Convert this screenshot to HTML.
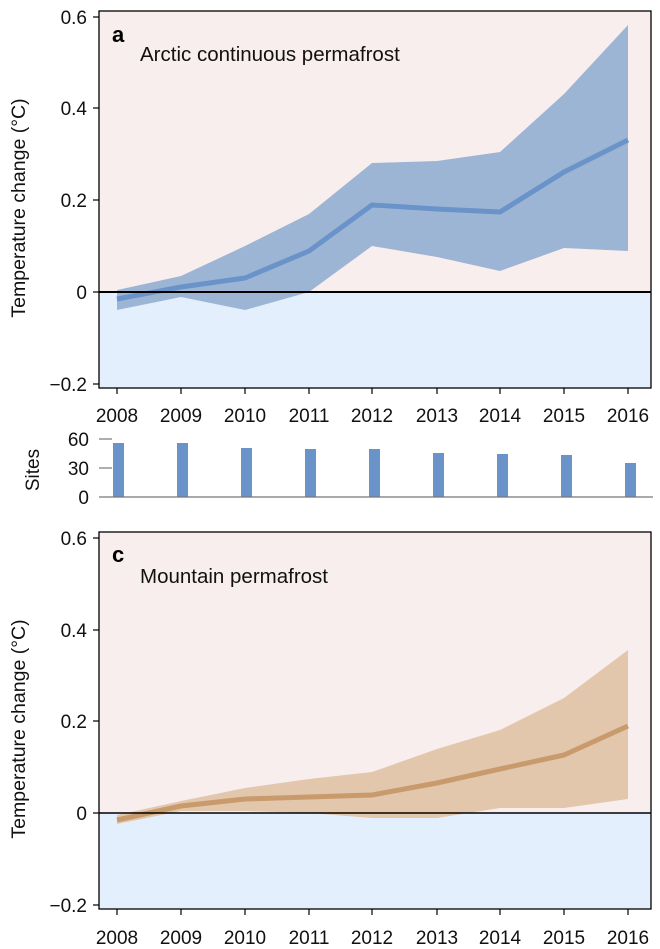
<!DOCTYPE html>
<html><head><meta charset="utf-8"><style>
html,body{margin:0;padding:0;background:#fff;}
svg{display:block;font-family:"Liberation Sans",sans-serif;}
</style></head><body>
<svg width="660" height="949" viewBox="0 0 660 949" xmlns="http://www.w3.org/2000/svg">
<!-- Panel a -->
<rect x="99" y="11" width="552" height="281" fill="#f9eeee"/>
<rect x="99" y="292" width="552" height="96" fill="#e3effc"/>
<polygon fill="#9db5d5" points="117,290 181,276 245,246 309,214 372,163 437,161 500,152 564,94 628,25 628,251 564,248 500,271 437,257 372,246 309,292 245,310 181,297 117,310"/>
<polyline fill="none" stroke="#6a93c9" stroke-width="5" stroke-linejoin="round" points="117,299 181,287 245,278 309,251 372,205 437,209 500,212 564,172 628,140"/>
<line x1="99" y1="292" x2="651" y2="292" stroke="#000" stroke-width="2"/>
<rect x="99" y="11" width="552" height="377" fill="none" stroke="#000" stroke-width="1.3"/>
<g stroke="#000" stroke-width="1.2">
<line x1="93" y1="17" x2="99" y2="17"/><line x1="93" y1="108" x2="99" y2="108"/><line x1="93" y1="200" x2="99" y2="200"/><line x1="93" y1="292" x2="99" y2="292"/><line x1="93" y1="384" x2="99" y2="384"/>
<line x1="117" y1="388" x2="117" y2="394"/><line x1="181" y1="388" x2="181" y2="394"/><line x1="245" y1="388" x2="245" y2="394"/><line x1="309" y1="388" x2="309" y2="394"/><line x1="372" y1="388" x2="372" y2="394"/><line x1="437" y1="388" x2="437" y2="394"/><line x1="500" y1="388" x2="500" y2="394"/><line x1="564" y1="388" x2="564" y2="394"/><line x1="628" y1="388" x2="628" y2="394"/>
</g>
<g font-size="19" fill="#111" text-anchor="end">
<text x="87" y="24">0.6</text><text x="87" y="115">0.4</text><text x="87" y="207">0.2</text><text x="87" y="299">0</text><text x="87" y="391">−0.2</text>
</g>
<g font-size="19" fill="#111" text-anchor="middle">
<text x="117" y="422">2008</text><text x="181" y="422">2009</text><text x="245" y="422">2010</text><text x="309" y="422">2011</text><text x="372" y="422">2012</text><text x="437" y="422">2013</text><text x="500" y="422">2014</text><text x="564" y="422">2015</text><text x="628" y="422">2016</text>
</g>
<text x="112" y="42" font-size="22" font-weight="bold">a</text>
<text x="140" y="61" font-size="20.5" fill="#111">Arctic continuous permafrost</text>
<text transform="translate(25,208) rotate(-90)" font-size="19.5" fill="#111" text-anchor="middle">Temperature change (°C)</text>
<!-- Sites -->
<g fill="#6a93c9">
<rect x="113" y="443" width="11" height="54"/><rect x="177" y="443" width="11" height="54"/><rect x="241" y="448" width="11" height="49"/><rect x="305" y="449" width="11" height="48"/><rect x="369" y="449" width="11" height="48"/><rect x="433" y="453" width="11" height="44"/><rect x="497" y="454" width="11" height="43"/><rect x="561" y="455" width="11" height="42"/><rect x="625" y="463" width="11" height="34"/>
</g>
<line x1="99" y1="497" x2="653" y2="497" stroke="#777" stroke-width="1.2"/>
<line x1="99" y1="439" x2="112" y2="439" stroke="#777" stroke-width="1.2"/>
<line x1="99" y1="468" x2="112" y2="468" stroke="#777" stroke-width="1.2"/>
<g font-size="19" fill="#111" text-anchor="end">
<text x="89" y="446">60</text><text x="89" y="475">30</text><text x="89" y="504">0</text>
</g>
<text transform="translate(39,470) rotate(-90)" font-size="19" fill="#111" text-anchor="middle">Sites</text>
<!-- Panel c -->
<rect x="99" y="532" width="552" height="281" fill="#f9eeee"/>
<rect x="99" y="813" width="552" height="96" fill="#e3effc"/>
<polygon fill="#e2c7ad" points="117,815 181,801 245,788 309,779 372,772 437,749 500,730 564,698 628,650 628,799 564,808 500,808 437,818 372,818 309,813 245,811 181,811 117,824"/>
<polyline fill="none" stroke="#c99a6c" stroke-width="5" stroke-linejoin="round" points="117,820 181,806 245,799 309,797 372,795 437,783 500,769 564,755 628,726"/>
<line x1="99" y1="813" x2="651" y2="813" stroke="#000" stroke-width="1.6"/>
<rect x="99" y="532" width="552" height="377" fill="none" stroke="#000" stroke-width="1.3"/>
<g stroke="#000" stroke-width="1.2">
<line x1="93" y1="538" x2="99" y2="538"/><line x1="93" y1="630" x2="99" y2="630"/><line x1="93" y1="721" x2="99" y2="721"/><line x1="93" y1="813" x2="99" y2="813"/><line x1="93" y1="905" x2="99" y2="905"/>
<line x1="117" y1="909" x2="117" y2="915"/><line x1="181" y1="909" x2="181" y2="915"/><line x1="245" y1="909" x2="245" y2="915"/><line x1="309" y1="909" x2="309" y2="915"/><line x1="372" y1="909" x2="372" y2="915"/><line x1="437" y1="909" x2="437" y2="915"/><line x1="500" y1="909" x2="500" y2="915"/><line x1="564" y1="909" x2="564" y2="915"/><line x1="628" y1="909" x2="628" y2="915"/>
</g>
<g font-size="19" fill="#111" text-anchor="end">
<text x="87" y="545">0.6</text><text x="87" y="637">0.4</text><text x="87" y="728">0.2</text><text x="87" y="820">0</text><text x="87" y="912">−0.2</text>
</g>
<g font-size="19" fill="#111" text-anchor="middle">
<text x="117" y="944">2008</text><text x="181" y="944">2009</text><text x="245" y="944">2010</text><text x="309" y="944">2011</text><text x="372" y="944">2012</text><text x="437" y="944">2013</text><text x="500" y="944">2014</text><text x="564" y="944">2015</text><text x="628" y="944">2016</text>
</g>
<text x="112" y="562" font-size="22" font-weight="bold">c</text>
<text x="140" y="583" font-size="20.5" fill="#111">Mountain permafrost</text>
<text transform="translate(25,729) rotate(-90)" font-size="19.5" fill="#111" text-anchor="middle">Temperature change (°C)</text>
</svg>
</body></html>
